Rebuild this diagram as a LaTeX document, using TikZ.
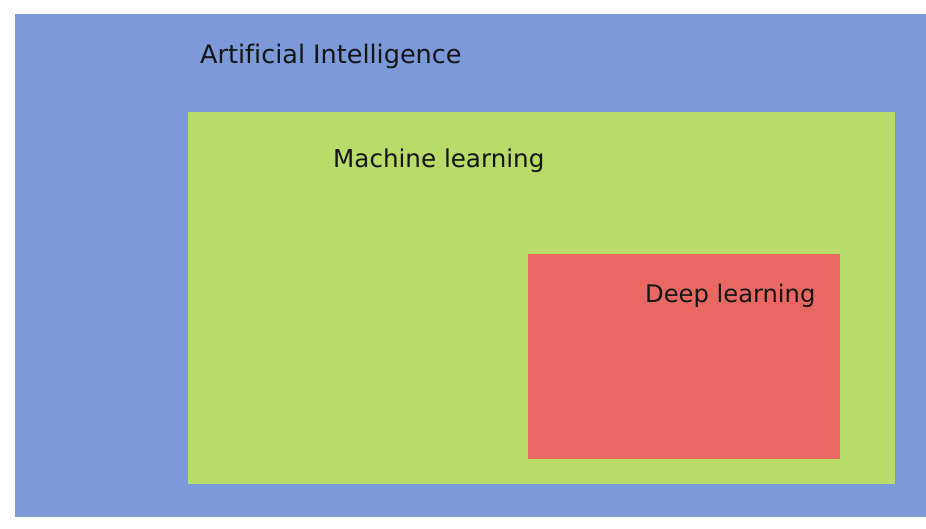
\documentclass[tikz,border=0pt]{standalone}
\usepackage{fontspec}
\setmainfont[Ligatures=NoCommon]{DejaVu Sans}
\usepackage{tikz}
\usetikzlibrary{positioning}
\definecolor{aiBlue}{RGB}{124,154,217}
\definecolor{mlGreen}{RGB}{185,219,106}
\definecolor{dlRed}{RGB}{234,104,98}
\definecolor{labelBlack}{gray}{0.08}

\begin{document}
\begin{tikzpicture}[x=1pt, y=-1pt, label/.style={anchor=base west, inner sep=0pt, text=labelBlack, font=\fontsize{#1}{30}\selectfont}, label/.default=25.5]
    \useasboundingbox[fill=white] (0,0) rectangle (926,528);
    
    % Areas
    \fill[aiBlue] (15,14) rectangle (926,517);
    \fill[mlGreen] (188,112) rectangle (895,484);
    \fill[dlRed] (528,254) rectangle (840,459);
    
    % Labels
    \node[label] (ai) at (200,63) {Artificial Intelligence};
    \node[label=24.6] (ml) at (333,167) {Machine learning};
    \node[label=24.2] (dl) at (645,302) {Deep learning};
\end{tikzpicture}
\end{document}
